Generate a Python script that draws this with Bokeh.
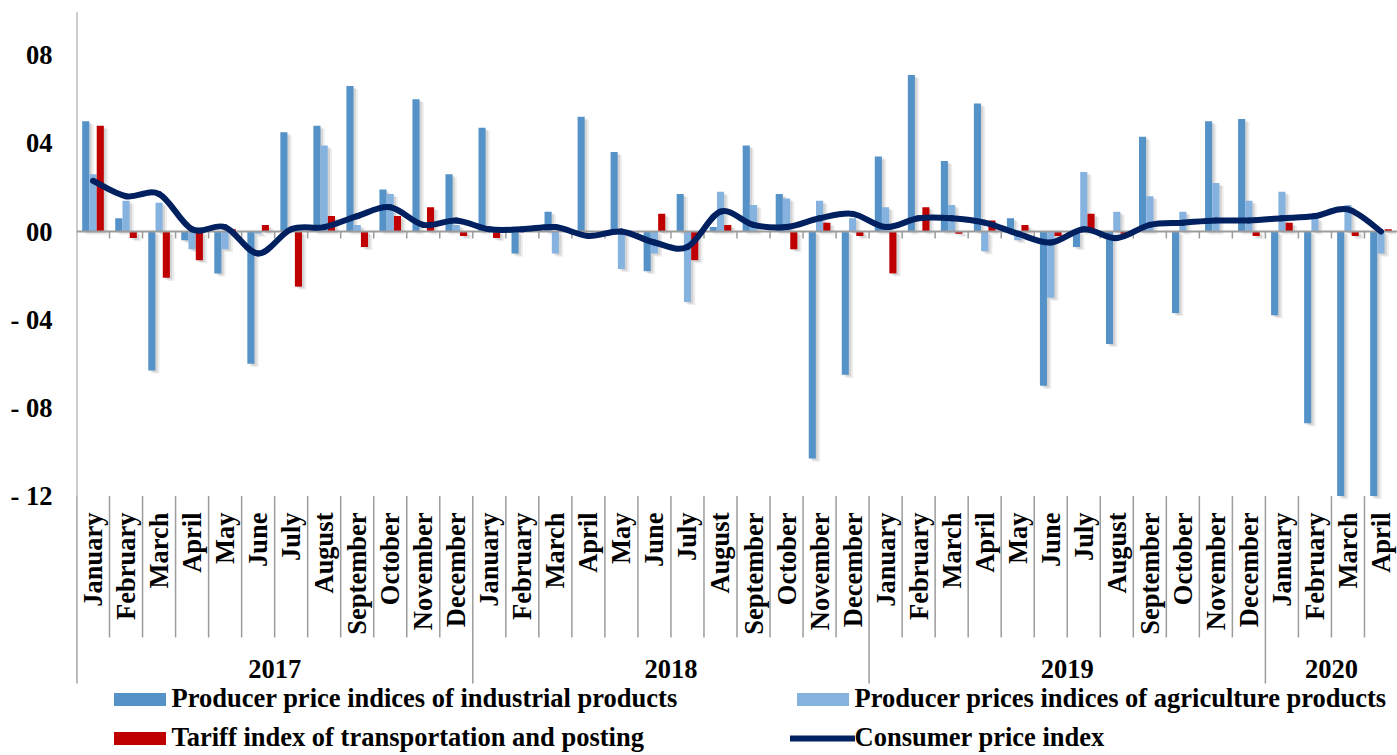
import numpy as np
from bokeh.plotting import figure
from bokeh.models import Range1d, FixedTicker, Legend, LegendItem
from bokeh.core.properties import value
from bokeh.embed import file_html
from bokeh.resources import INLINE

# ---------------- data ----------------
years = ["2017", "2018", "2019", "2020"]
months_in_year = [12, 12, 12, 4]
month_names = ["January", "February", "March", "April", "May", "June", "July",
               "August", "September", "October", "November", "December"]
months = month_names * 3 + month_names[:4]

industrial = [5.0, 0.6, -6.3, -0.4, -1.9, -6.0, 4.5, 4.8, 6.6, 1.9, 6.0, 2.6,
              4.7, -1.0, 0.9, 5.2, 3.6, -1.8, 1.7, 0.2, 3.9, 1.7, -10.3, -6.5,
              3.4, 7.1, 3.2, 5.8, 0.6, -7.0, -0.7, -5.1, 4.3, -3.7, 5.0, 5.1,
              -3.8, -8.7, -14.0, -13.0]          # last two run past the axis minimum
agriculture = [2.6, 1.4, 1.3, -0.8, -0.8, -0.1, 0.0, 3.9, 0.3, 1.7, 0.0, 0.3,
               0.0, 0.0, -1.0, 0.0, -1.7, -1.0, -3.2, 1.8, 1.2, 1.5, 1.4, 0.6,
               1.1, 0.0, 1.2, -0.9, -0.4, -3.0, 2.7, 0.9, 1.6, 0.9, 2.2, 1.4,
               1.8, 0.6, 1.2, -1.0]
tariff = [4.8, -0.3, -2.1, -1.3, 0.1, 0.3, -2.5, 0.7, -0.7, 0.7, 1.1, -0.2,
          -0.3, 0.0, 0.0, 0.0, 0.0, 0.8, -1.3, 0.3, 0.0, -0.8, 0.4, -0.2,
          -1.9, 1.1, -0.1, 0.5, 0.3, -0.2, 0.8, -0.1, 0.0, 0.0, 0.0, -0.2,
          0.4, 0.0, -0.2, 0.1]
cpi = [2.3, 1.6, 1.7, 0.1, 0.2, -1.0, 0.1, 0.2, 0.7, 1.1, 0.3, 0.5,
       0.1, 0.1, 0.2, -0.2, 0.0, -0.5, -0.7, 0.9, 0.3, 0.2, 0.6, 0.8,
       0.2, 0.6, 0.6, 0.4, -0.1, -0.5, 0.1, -0.3, 0.3, 0.4, 0.5, 0.5,
       0.6, 0.7, 1.0, 0.0]

y_ticks = [-12, -8, -4, 0, 4, 8]
y_tick_labels = ["- 12", "- 08", "- 04", "00", "04", "08"]
axis_min = -12

series_names = ["Producer price indices of industrial products",
                "Producer prices indices of agriculture products",
                "Tariff index of transportation and posting",
                "Consumer price index"]
colors = ["#5592C8", "#86B2E0", "#C00000", "#002060"]

# ---------------- layout constants ----------------
PX = 22.05                      # pixels per unit on the value axis
FONT = value("Liberation Serif")
FS = "26.5px"
GRAY = "#9C9C9C"

n = len(months)
p = figure(width=1397, height=755,
           x_range=Range1d(0, n), y_range=Range1d(-524 / PX, 221 / PX),
           output_backend="svg", toolbar_location=None,
           x_axis_location=None, y_axis_location="left",
           min_border_left=76, min_border_right=0,
           min_border_top=10, min_border_bottom=0)
p.outline_line_color = None
p.grid.visible = False
p.background_fill_color = "white"

yax = p.yaxis[0]
yax.ticker = FixedTicker(ticks=y_ticks)
yax.major_label_overrides = {t: l for t, l in zip(y_ticks, y_tick_labels)}
yax.axis_line_color = None
yax.major_tick_line_color = None
yax.minor_tick_line_color = None
yax.major_tick_out = 0
yax.major_tick_in = 0
yax.major_label_standoff = 24
yax.major_label_text_font = "Liberation Serif"
yax.major_label_text_font_style = "bold"
yax.major_label_text_font_size = FS
yax.major_label_text_color = "black"

x = np.arange(n) + 0.5
bw = 0.215
offsets = [-0.22, 0.0, 0.22]
bar_series = [industrial, agriculture, tariff]

# shadows
for vals, off in zip(bar_series, offsets):
    v = np.maximum(np.array(vals), axis_min)
    for dx, dy, a in [(0.07, 0.08, 0.10), (0.13, 0.14, 0.07)]:
        p.vbar(x=x + off + dx, top=v - dy, bottom=-dy, width=bw,
               fill_color="black", fill_alpha=a, line_color=None)

bar_renderers = []
for vals, off, c in zip(bar_series, offsets, colors[:3]):
    v = np.maximum(np.array(vals), axis_min)
    r = p.vbar(x=x + off, top=v, bottom=0, width=bw,
               fill_color=c, line_color=None)
    bar_renderers.append(r)

# category axis line at zero, with ticks
p.segment(x0=0, y0=0, x1=n, y1=0, line_color=GRAY, line_width=2)
kk = np.arange(1, n)
p.segment(x0=kk, y0=0, x1=kk, y1=-7 / PX, line_color=GRAY, line_width=1.5)

# separators in the label area
year_bounds = np.cumsum([0] + months_in_year)
month_bounds = [k for k in range(n + 1) if k not in year_bounds]
p.segment(x0=month_bounds, y0=axis_min, x1=month_bounds, y1=-406 / PX,
          line_color=GRAY, line_width=1.5)
yb = list(year_bounds[:-1])
p.segment(x0=yb, y0=axis_min, x1=yb, y1=-452 / PX,
          line_color=GRAY, line_width=1.5)
# value axis line
p.segment(x0=0, y0=221 / PX - 0.08, x1=0, y1=-452 / PX, line_color=GRAY, line_width=2)

# month labels
p.text(x=x, y=-281 / PX, text=months, angle=np.pi / 2,
       text_align="right", text_baseline="middle",
       text_font=FONT, text_font_style="bold", text_font_size=FS, text_color="black")
# year labels
year_centers = [(year_bounds[i] + year_bounds[i + 1]) / 2 for i in range(len(years))]
p.text(x=year_centers, y=-437 / PX, text=years,
       text_align="center", text_baseline="middle",
       text_font=FONT, text_font_style="bold", text_font_size=FS, text_color="black")

# smoothed CPI line (cubic Bezier through every data point)
ys = np.array(cpi)
xp = np.concatenate([[x[0]], x, [x[-1]]])
yp = np.concatenate([[ys[0]], ys, [ys[-1]]])
x0 = x[:-1]; y0 = ys[:-1]; x1 = x[1:]; y1 = ys[1:]
cx0 = x0 + (xp[2:-1] - xp[:-3]) / 6
cy0 = y0 + (yp[2:-1] - yp[:-3]) / 6
cx1 = x1 - (xp[3:] - xp[1:-2]) / 6
cy1 = y1 - (yp[3:] - yp[1:-2]) / 6
line_r = p.bezier(x0=x0, y0=y0, x1=x1, y1=y1, cx0=cx0, cy0=cy0, cx1=cx1, cy1=cy1,
                  line_color=colors[3], line_width=6, line_cap="round")

legend = Legend(items=[LegendItem(label=series_names[0], renderers=[bar_renderers[0]]),
                       LegendItem(label=series_names[1], renderers=[bar_renderers[1]]),
                       LegendItem(label=series_names[2], renderers=[bar_renderers[2]]),
                       LegendItem(label=series_names[3], renderers=[line_r])],
                location=(30.5, 2), orientation="horizontal", ncols=2,
                glyph_width=65, glyph_height=16, label_standoff=0,
                label_width=610, label_height=30, spacing=8,
                padding=0, margin=0, border_line_color=None,
                background_fill_alpha=0,
                label_text_font="Liberation Serif", label_text_font_style="bold",
                label_text_font_size=FS, label_text_color="black")
p.add_layout(legend)

open("out.html", "w").write(file_html(p, INLINE))
